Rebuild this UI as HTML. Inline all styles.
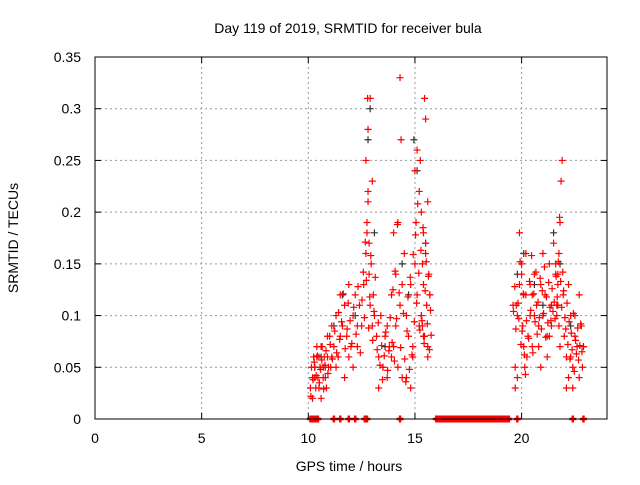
<!DOCTYPE html>
<html><head><meta charset="utf-8"><style>
body{margin:0;background:#fff;}
svg{font-family:"Liberation Sans",sans-serif;}
</style></head><body>
<svg id="c" width="640" height="480">
<rect width="640" height="480" fill="#fff"/>
<text x="348" y="33" font-size="14" text-anchor="middle">Day 119 of 2019, SRMTID for receiver bula</text>
<text x="349" y="471" font-size="14" text-anchor="middle">GPS time / hours</text>
<text transform="translate(18,238) rotate(-90)" font-size="14" text-anchor="middle">SRMTID / TECUs</text>
<g id="grid"></g><g id="pts"></g>
<rect x="95" y="57" width="512" height="362" fill="none" stroke="#000"/>
<g id="ticks"></g>
</svg>
<script>
const xTicks=[0,5,10,15,20];
const yTicks=[0,0.05,0.1,0.15,0.2,0.25,0.3,0.35];
const yTickLabels=["0","0.05","0.1","0.15","0.2","0.25","0.3","0.35"];
const redHours=[10.1,10.15,10.2,10.25,10.3,10.35,10.4,10.45,10.5,10.55,10.6,10.65,10.7,10.75,10.8,10.85,10.9,10.95,10.2,10.3,10.4,10.5,10.6,10.7,10.8,10.9,11.0,11.05,11.1,11.2,11.3,11.4,11.5,11.6,11.7,11.8,11.9,12.0,12.1,12.2,12.3,12.4,11.1,11.3,11.5,11.7,11.9,12.1,12.3,12.5,12.6,12.7,12.75,12.8,12.85,12.9,12.95,13.0,13.05,13.1,12.7,12.8,12.9,13.0,12.75,12.85,12.8,12.78,13.2,13.3,13.4,13.5,13.6,13.7,13.8,13.9,13.3,13.5,13.7,13.9,14.0,14.1,14.2,14.3,14.4,14.5,14.0,14.2,14.3,14.35,14.4,14.1,14.6,14.7,14.8,14.9,15.0,15.1,15.2,14.6,14.8,14.9,15.0,15.05,15.1,15.3,15.35,15.4,15.45,15.5,15.55,15.6,15.65,15.7,15.3,15.4,15.45,15.5,15.6,15.35,15.4,15.25,15.3,15.5,15.6,15.7,15.2,19.6,19.7,19.75,19.8,19.9,20.0,20.05,20.1,20.15,20.2,20.25,19.7,19.8,19.9,20.0,20.1,20.2,20.3,20.4,20.5,20.6,20.7,20.8,20.9,21.0,21.1,21.2,21.3,21.4,20.4,20.6,20.8,21.0,21.2,21.4,20.5,20.9,21.3,21.5,21.6,21.65,21.7,21.75,21.8,21.85,21.9,21.95,21.6,21.65,21.7,21.75,21.8,21.7,22.0,22.1,22.2,22.3,22.4,22.5,22.6,22.7,22.8,22.1,22.3,22.5,22.7,22.85,22.9,22.2,22.4];
const redValues=[0.03,0.05,0.04,0.06,0.05,0.03,0.07,0.04,0.06,0.05,0.02,0.07,0.04,0.06,0.05,0.03,0.08,0.05,0.02,0.04,0.06,0.03,0.07,0.05,0.04,0.06,0.08,0.05,0.09,0.07,0.10,0.06,0.12,0.09,0.11,0.08,0.13,0.07,0.10,0.12,0.09,0.11,0.06,0.05,0.08,0.04,0.06,0.05,0.07,0.09,0.13,0.16,0.18,0.21,0.14,0.11,0.15,0.09,0.12,0.10,0.25,0.28,0.31,0.23,0.19,0.17,0.22,0.31,0.08,0.06,0.10,0.05,0.08,0.04,0.07,0.12,0.03,0.05,0.09,0.06,0.18,0.14,0.19,0.33,0.13,0.16,0.07,0.05,0.11,0.27,0.04,0.09,0.10,0.08,0.13,0.06,0.24,0.26,0.22,0.04,0.03,0.07,0.15,0.19,0.12,0.10,0.09,0.13,0.08,0.16,0.11,0.07,0.14,0.12,0.10,0.18,0.31,0.29,0.21,0.15,0.08,0.25,0.20,0.17,0.06,0.12,0.09,0.11,0.05,0.11,0.10,0.13,0.15,0.09,0.07,0.05,0.12,0.06,0.03,0.04,0.18,0.14,0.12,0.16,0.08,0.10,0.07,0.14,0.11,0.09,0.13,0.10,0.12,0.08,0.15,0.11,0.13,0.10,0.07,0.16,0.06,0.09,0.12,0.05,0.08,0.17,0.14,0.11,0.13,0.16,0.19,0.23,0.25,0.12,0.15,0.10,0.14,0.09,0.07,0.11,0.08,0.06,0.13,0.10,0.05,0.08,0.07,0.04,0.09,0.03,0.06,0.10,0.12,0.05,0.07,0.04,0.03,0.08,0.11];
const extraHours=[10.12,10.22,10.28,10.37,10.43,10.52,10.58,10.63,10.72,10.78,10.83,10.92,11.03,11.13,11.24,11.33,11.42,11.47,11.56,11.64,11.73,11.82,11.87,11.96,12.04,12.13,12.24,12.33,12.44,12.52,12.58,12.63,12.67,12.72,12.83,12.88,12.93,13.02,13.08,13.14,13.23,13.28,13.36,13.44,13.48,13.56,13.63,13.72,13.78,13.84,13.93,13.97,14.04,14.07,14.14,14.18,14.26,14.33,14.46,14.52,14.57,14.63,14.67,14.74,14.78,14.86,14.92,14.97,15.03,15.08,15.13,15.18,15.23,15.28,15.33,15.38,15.43,15.48,15.53,15.58,15.63,15.68,15.73,15.76,19.62,19.68,19.73,19.83,19.87,19.93,19.97,20.03,20.08,20.13,20.18,20.23,20.33,20.37,20.43,20.47,20.53,20.57,20.63,20.67,20.73,20.77,20.83,20.87,20.93,20.97,21.03,21.07,21.13,21.17,21.23,21.27,21.33,21.37,21.43,21.47,21.53,21.57,21.62,21.67,21.72,21.78,21.83,21.88,21.93,21.97,22.03,22.07,22.13,22.17,22.23,22.27,22.33,22.37,22.43,22.47,22.53,22.57,22.63,22.67,22.73,22.77,22.83];
const extraValues=[0.022,0.038,0.055,0.042,0.061,0.035,0.048,0.057,0.029,0.052,0.066,0.044,0.072,0.058,0.085,0.064,0.103,0.077,0.094,0.121,0.068,0.087,0.112,0.095,0.073,0.108,0.082,0.128,0.064,0.115,0.142,0.098,0.171,0.134,0.088,0.118,0.158,0.076,0.104,0.137,0.067,0.093,0.052,0.071,0.038,0.061,0.084,0.047,0.066,0.098,0.074,0.125,0.056,0.143,0.097,0.188,0.122,0.069,0.102,0.058,0.036,0.085,0.118,0.048,0.137,0.062,0.159,0.094,0.178,0.112,0.208,0.141,0.086,0.163,0.095,0.185,0.073,0.124,0.152,0.092,0.138,0.067,0.105,0.081,0.104,0.128,0.087,0.112,0.097,0.152,0.072,0.085,0.121,0.062,0.043,0.095,0.078,0.133,0.105,0.158,0.064,0.121,0.094,0.142,0.082,0.113,0.098,0.136,0.087,0.124,0.102,0.147,0.079,0.118,0.093,0.132,0.108,0.095,0.126,0.104,0.113,0.097,0.138,0.118,0.152,0.195,0.133,0.108,0.142,0.124,0.098,0.087,0.112,0.072,0.094,0.058,0.083,0.067,0.102,0.046,0.076,0.063,0.088,0.057,0.071,0.092,0.065,0.078];
const darkHours=[10.3,10.6,11.2,11.6,12.2,12.9,12.8,13.1,13.6,14.4,14.7,14.95,15.1,15.5,19.8,20.1,20.6,21.0,21.5,21.8,22.3,22.9];
const darkValues=[0.05,0.06,0.09,0.12,0.10,0.30,0.27,0.18,0.07,0.15,0.12,0.27,0.24,0.17,0.14,0.16,0.13,0.11,0.18,0.15,0.09,0.07];
const zeroHours=[10.1,10.2,10.3,10.4,10.45,11.2,11.5,11.9,12.2,12.65,12.75,14.3,19.8,22.4,22.9];
const zeroBand=[16.0,19.45];
const X=h=>95+h*21.33, Y=v=>419-v*1034.3;
const NS="http://www.w3.org/2000/svg";
const mk=(t,a,p)=>{const e=document.createElementNS(NS,t);for(const k in a)e.setAttribute(k,a[k]);p.appendChild(e);return e;};
const grid=document.getElementById('grid'),ticks=document.getElementById('ticks'),pts=document.getElementById('pts');
xTicks.forEach(t=>{const x=X(t);
 if(t>0){const g=mk('line',{x1:x,x2:x,y1:57,y2:419,stroke:'#999','stroke-dasharray':'2,3'},grid);
 
 }
 mk('line',{x1:x,x2:x,y1:419,y2:413,stroke:'#000'},ticks);mk('line',{x1:x,x2:x,y1:57,y2:63,stroke:'#000'},ticks);
 const l=mk('text',{x:x,y:443,'font-size':14,'text-anchor':'middle'},ticks);l.textContent=t;
 
 });
yTicks.forEach((t,i)=>{const y=Y(t);
 if(t>0&&t<0.35){const g=mk('line',{x1:95,x2:607,y1:y,y2:y,stroke:'#999','stroke-dasharray':'2,3'},grid);
 
 }
 mk('line',{x1:95,x2:101,y1:y,y2:y,stroke:'#000'},ticks);mk('line',{x1:607,x2:601,y1:y,y2:y,stroke:'#000'},ticks);
 const l=mk('text',{x:81,y:y+5,'font-size':14,'text-anchor':'end'},ticks);l.textContent=yTickLabels[i];
 
 });
function plus(h,v,c,w){const x=X(h),y=Y(v);
 const p=mk('path',{d:`M${x-3.5},${y}h7M${x},${y-3.5}v7`,stroke:c,'stroke-width':w||1.2},pts);
 
 }
darkHours.forEach((h,i)=>plus(h,darkValues[i],'#333'));
redHours.forEach((h,i)=>plus(h,redValues[i],'#f00'));
extraHours.forEach((h,i)=>plus(h,extraValues[i],'#f00'));
zeroHours.forEach(h=>plus(h,0,'#f00',2.5));
for(let h=zeroBand[0];h<=zeroBand[1];h+=0.05)plus(h,0,'#f00',2.5);
</script>
</body></html>
